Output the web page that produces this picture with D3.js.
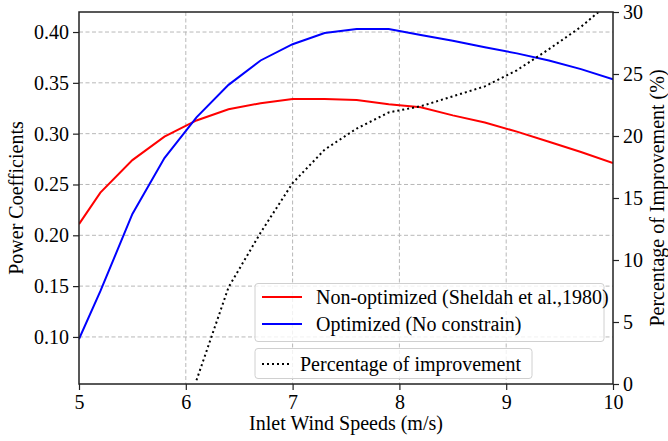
<!DOCTYPE html>
<html><head><meta charset="utf-8">
<script src="https://cdn.jsdelivr.net/npm/d3@7"></script>
<style>body{margin:0;background:#fff}svg{display:block}text{font-family:"Liberation Serif","Times New Roman",serif;fill:#000}</style>
</head><body><svg id="c" width="668" height="441"></svg>
<script>
const windSpeeds = [5.0,5.2,5.5,5.8,6.1,6.4,6.7,7.0,7.3,7.6,7.9,8.2,8.5,8.8,9.1,9.4,9.7,10.0];
const nonOptimized = [0.211,0.242,0.274,0.297,0.313,0.324,0.330,0.334,0.334,0.333,0.329,0.326,0.318,0.311,0.302,0.292,0.282,0.271];
const optimized = [0.098,0.145,0.221,0.276,0.316,0.348,0.372,0.388,0.399,0.403,0.403,0.397,0.3915,0.385,0.379,0.372,0.3635,0.3534];
const improveSpeeds = [6.1,6.4,6.7,7.0,7.3,7.6,7.9,8.2,8.5,8.8,9.1,9.4,9.7,10.0];
const improvement = [0.3,7.8,12.2,16.2,18.9,20.6,21.9,22.4,23.2,24.0,25.3,27.0,28.8,31.0];
const xTicks = [5,6,7,8,9,10];
const yLeftTicks = [0.10,0.15,0.20,0.25,0.30,0.35,0.40];
const yRightTicks = [0,5,10,15,20,25,30];
const legendMain = ["Non-optimized (Sheldah et al.,1980)","Optimized (No constrain)"];
const legendSecond = "Percentage of improvement";

const svg = d3.select("#c");
const L=79,R=613,T=12,B=384;
const x = d3.scaleLinear().domain([5,10]).range([L,R]);
const y = d3.scaleLinear().domain([0.0537,0.4197]).range([B,T]);
const y2 = d3.scaleLinear().domain([0,30]).range([B,T]);
const FS = 20;

svg.append("defs").append("clipPath").attr("id","clip").append("rect")
  .attr("x",L).attr("y",T).attr("width",R-L).attr("height",B-T);

// grid
const g = svg.append("g");
g.selectAll("line.gx").data(xTicks.slice(1,-1)).join("line")
  .attr("x1",d=>x(d)).attr("x2",d=>x(d)).attr("y1",T).attr("y2",B)
  .attr("stroke","#b8b8b8").attr("stroke-width",1).attr("stroke-dasharray","4,2.5");
g.selectAll("line.gy").data(yLeftTicks).join("line")
  .attr("x1",L).attr("x2",R).attr("y1",d=>y(d)).attr("y2",d=>y(d))
  .attr("stroke","#b8b8b8").attr("stroke-width",1).attr("stroke-dasharray","4,2.5");

// lines
const plot = svg.append("g").attr("clip-path","url(#clip)");
const line = d3.line().x((d,i)=>x(windSpeeds[i])).y(d=>y(d));
plot.append("path").attr("d",line(nonOptimized)).attr("fill","none").attr("stroke","#ff0000").attr("stroke-width",2);
plot.append("path").attr("d",line(optimized)).attr("fill","none").attr("stroke","#0000ff").attr("stroke-width",2);
const line2 = d3.line().x((d,i)=>x(improveSpeeds[i])).y(d=>y2(d));
plot.append("path").attr("d",line2(improvement)).attr("fill","none").attr("stroke","#000").attr("stroke-width",2).attr("stroke-dasharray","2,3");

// axes
const ax = svg.append("g").attr("transform",`translate(0,${B})`).call(d3.axisBottom(x).tickValues(xTicks).tickFormat(d3.format("d")).tickSize(6).tickPadding(5));
const ay = svg.append("g").attr("transform",`translate(${L},0)`).call(d3.axisLeft(y).tickValues(yLeftTicks).tickFormat(d3.format(".2f")).tickSize(6).tickPadding(4));
const ay2 = svg.append("g").attr("transform",`translate(${R},0)`).call(d3.axisRight(y2).tickValues(yRightTicks).tickFormat(d3.format("d")).tickSize(6).tickPadding(4));
[ax,ay,ay2].forEach(a=>{
  a.select(".domain").remove();
  a.selectAll("line").attr("stroke","#222").attr("stroke-width",1.2);
  a.selectAll("text").attr("font-size",FS).attr("font-family","Liberation Serif").attr("fill","#000");
});
svg.append("rect").attr("x",L).attr("y",T).attr("width",R-L).attr("height",B-T)
  .attr("fill","none").attr("stroke","#222").attr("stroke-width",1.5);

// axis labels
svg.append("text").attr("x",(L+R)/2).attr("y",430).attr("text-anchor","middle").attr("font-size",FS).text("Inlet Wind Speeds (m/s)");
svg.append("text").attr("transform",`translate(23,${(T+B)/2}) rotate(-90)`).attr("text-anchor","middle").attr("font-size",FS).text("Power Coefficients");
svg.append("text").attr("transform",`translate(664,${(T+B)/2}) rotate(-90)`).attr("text-anchor","middle").attr("font-size",FS).text("Percentage of Improvement (%)");

// legends
const lg = svg.append("g");
lg.append("rect").attr("x",255).attr("y",283.5).attr("width",349).attr("height",58).attr("rx",3)
  .attr("fill","#fff").attr("fill-opacity",0.8).attr("stroke","#d0d0d0");
const cols = ["#ff0000","#0000ff"];
legendMain.forEach((t,i)=>{
  const yy = 297 + i*27;
  lg.append("line").attr("x1",262).attr("x2",302).attr("y1",yy).attr("y2",yy).attr("stroke",cols[i]).attr("stroke-width",2);
  lg.append("text").attr("x",316).attr("y",yy+7).attr("font-size",20).text(t);
});
lg.append("rect").attr("x",255).attr("y",348.5).attr("width",277).attr("height",30).attr("rx",3)
  .attr("fill","#fff").attr("fill-opacity",0.8).attr("stroke","#d0d0d0");
lg.append("line").attr("x1",262).attr("x2",289).attr("y1",364).attr("y2",364).attr("stroke","#000").attr("stroke-width",2).attr("stroke-dasharray","2,3");
lg.append("text").attr("x",300).attr("y",371).attr("font-size",20).text(legendSecond);
</script></body></html>
